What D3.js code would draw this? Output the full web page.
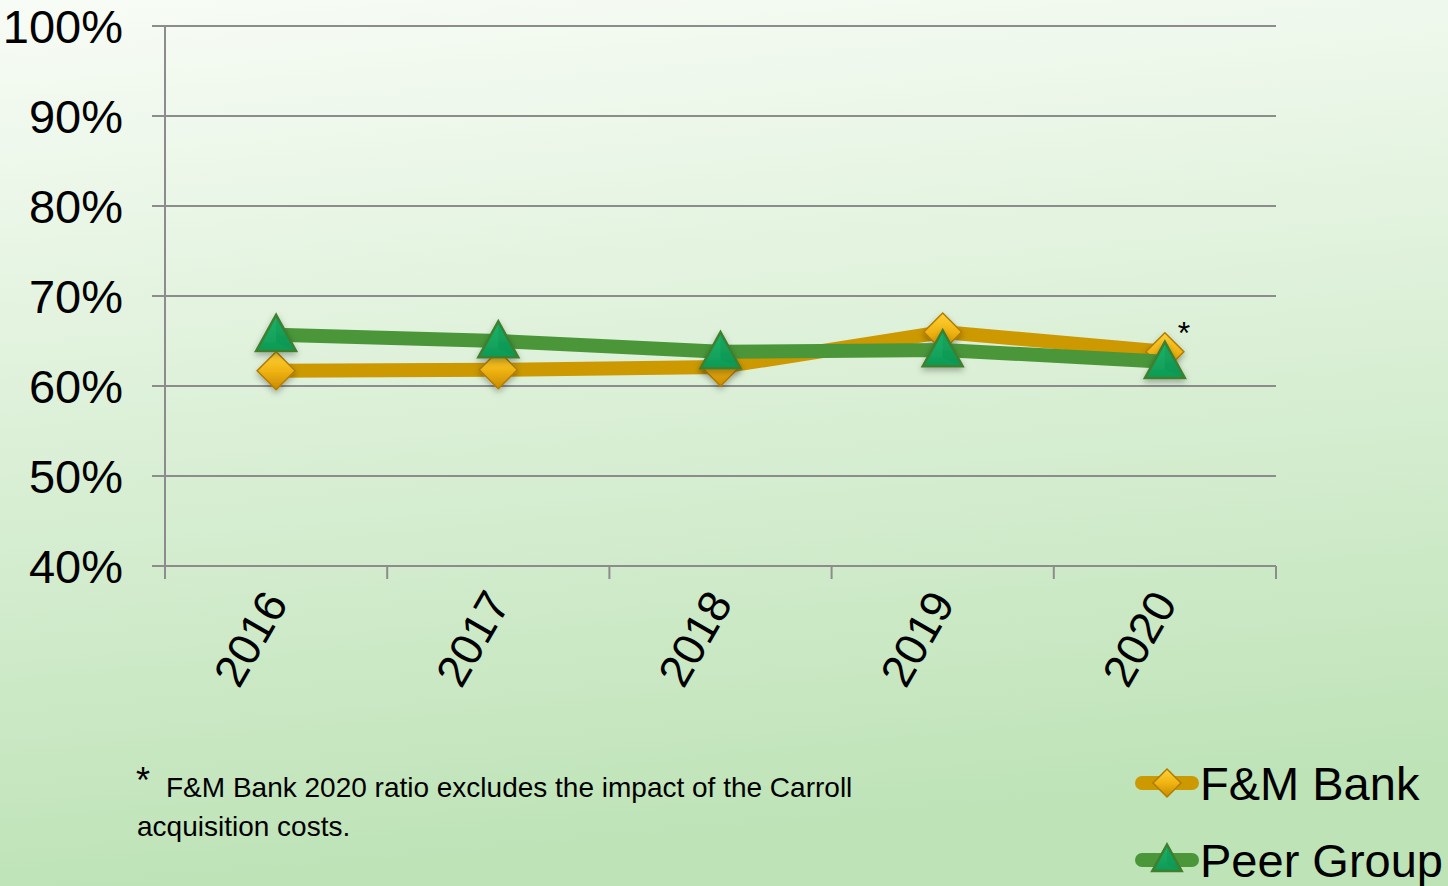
<!DOCTYPE html>
<html><head><meta charset="utf-8">
<script src="https://cdn.jsdelivr.net/npm/d3@7"></script>
<style>html,body{margin:0;padding:0;overflow:hidden;}svg{display:block;font-family:"Liberation Sans",Arial,sans-serif;}</style>
</head><body>
<script>
const years = ["2016","2017","2018","2019","2020"];
const fmBank = [61.7, 61.8, 62.1, 66.0, 63.8];
const peerGroup = [65.7, 65.0, 63.8, 64.0, 62.7];
const yTicks = [40,50,60,70,80,90,100];
const seriesNames = ["F&M Bank","Peer Group"];

const W=1448,H=886;
const svg=d3.select("body").append("svg").attr("width",W).attr("height",H);
const defs=svg.append("defs");
const bg=defs.append("linearGradient").attr("id","bg").attr("x1",0).attr("y1",0).attr("x2",0.15).attr("y2",1);
bg.append("stop").attr("offset","0%").attr("stop-color","#f8fcf6");
bg.append("stop").attr("offset","100%").attr("stop-color","#bee3b7");
const dg=defs.append("linearGradient").attr("id","dia").attr("x1",0).attr("y1",0).attr("x2",0).attr("y2",1);
dg.append("stop").attr("offset","0%").attr("stop-color","#ffd23a");
dg.append("stop").attr("offset","50%").attr("stop-color","#f0b412");
dg.append("stop").attr("offset","100%").attr("stop-color","#c88a00");
const tg=defs.append("linearGradient").attr("id","tri").attr("x1",0).attr("y1",0).attr("x2",0).attr("y2",1);
tg.append("stop").attr("offset","0%").attr("stop-color","#19b46a");
tg.append("stop").attr("offset","100%").attr("stop-color","#0f9a55");
const sh=defs.append("filter").attr("id","sh").attr("x","-50%").attr("y","-50%").attr("width","200%").attr("height","200%");
sh.append("feDropShadow").attr("dx",0).attr("dy",3).attr("stdDeviation",3).attr("flood-color","#000").attr("flood-opacity",0.3);

svg.append("rect").attr("width",W).attr("height",H).attr("fill","url(#bg)");

const x=d3.scaleBand().domain(years).range([165,1276]);
const y=d3.scaleLinear().domain([40,100]).range([566,26]);
const cx=d=>x(d)+x.bandwidth()/2;

svg.append("g").selectAll("line").data(yTicks).join("line")
  .attr("x1",152).attr("x2",1276).attr("y1",d=>y(d)).attr("y2",d=>y(d))
  .attr("stroke","#8c8c8c").attr("stroke-width",2);
svg.append("line").attr("x1",165).attr("x2",165).attr("y1",26).attr("y2",566).attr("stroke","#8c8c8c").attr("stroke-width",2);
const xb=years.map(d=>x(d)).concat([1276]);
svg.append("g").selectAll("line").data(xb).join("line")
  .attr("x1",d=>d).attr("x2",d=>d).attr("y1",566).attr("y2",579)
  .attr("stroke","#8c8c8c").attr("stroke-width",2);
svg.append("g").selectAll("text").data(yTicks).join("text")
  .attr("x",123).attr("y",d=>y(d)+17).attr("text-anchor","end")
  .attr("font-size",47).attr("fill","#000").text(d=>d+"%");
svg.append("g").selectAll("text").data(years).join("text")
  .attr("transform",d=>`translate(${cx(d)+13},${603}) rotate(-60)`)
  .attr("text-anchor","end").attr("font-size",45).attr("fill","#000").text(d=>d);

const line=d3.line().x((d,i)=>cx(years[i])).y(d=>y(d));
const diamond=(g,s)=>g.append("path").attr("d",`M0,${-s}L${s},0L0,${s}L${-s},0Z`).attr("fill","url(#dia)").attr("stroke","#b07c00").attr("stroke-width",1.5);
const triangle=(g,s)=>{g.append("path").attr("d",`M0,${-s*1.25}L${s*1.05},${s*0.65}L${-s*1.05},${s*0.65}Z`).attr("fill","url(#tri)").attr("stroke","#3f7f2e").attr("stroke-width",2.5);
  g.append("path").attr("d",`M0,${-s*1.2}L${s*0.95},${s*0.6}L0,${s*0.2}Z`).attr("fill","#0e8f4e").attr("opacity",0.35);};

svg.append("path").datum(fmBank).attr("d",line).attr("fill","none").attr("stroke","#cc9900").attr("stroke-width",14);
svg.append("g").selectAll("g").data(fmBank).join("g")
  .attr("transform",(d,i)=>`translate(${cx(years[i])},${y(d)})`).attr("filter","url(#sh)")
  .each(function(){diamond(d3.select(this),19);});
svg.append("path").datum(peerGroup).attr("d",line).attr("fill","none").attr("stroke","#4a9639").attr("stroke-width",14);
svg.append("g").selectAll("g").data(peerGroup).join("g")
  .attr("transform",(d,i)=>`translate(${cx(years[i])},${y(d)+4})`).attr("filter","url(#sh)")
  .each(function(){triangle(d3.select(this),19);});

svg.append("text").attr("x",cx("2020")+19).attr("y",y(fmBank[4])-8).attr("text-anchor","middle").attr("font-size",32).text("*");

svg.append("text").attr("x",136).attr("y",793).attr("font-size",36).text("*");
svg.append("text").attr("x",166).attr("y",797).attr("font-size",28).text("F&M Bank 2020 ratio excludes the impact of the Carroll");
svg.append("text").attr("x",137).attr("y",836).attr("font-size",28).text("acquisition costs.");

const lg=svg.append("g");
[783,860].forEach((ly,i)=>{
  lg.append("line").attr("x1",1142).attr("x2",1192).attr("y1",ly).attr("y2",ly)
    .attr("stroke",i===0?"#cc9900":"#4a9639").attr("stroke-width",14).attr("stroke-linecap","round");
  const g=lg.append("g").attr("transform",`translate(1167,${ly+(i?2:0)})`);
  if(i===0) diamond(g,14); else triangle(g,14);
  lg.append("text").attr("x",1200).attr("y",ly+17).attr("font-size",47).text(seriesNames[i]);
});
</script>
</body></html>
